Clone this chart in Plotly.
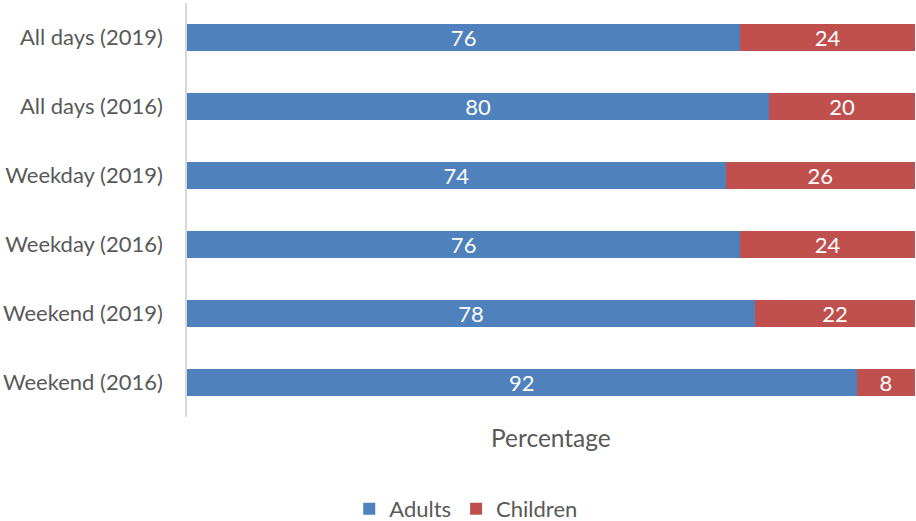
import plotly.graph_objects as go

categories = ["All days (2019)", "All days (2016)", "Weekday (2019)", "Weekday (2016)", "Weekend (2019)", "Weekend (2016)"]
adults = [76, 80, 74, 76, 78, 92]
children = [24, 20, 26, 24, 22, 8]

FONT = "Lato"
GREY = "#595959"

fig = go.Figure()
fig.add_trace(go.Bar(
    y=categories, x=adults, name="Adults", orientation="h",
    marker=dict(color="#4F81BD", line=dict(width=0)),
    text=[str(v) for v in adults], textposition="inside", insidetextanchor="middle", textangle=0,
    textfont=dict(color="white", size=22, family=FONT), constraintext="none",
))
fig.add_trace(go.Bar(
    y=categories, x=children, name="Children", orientation="h",
    marker=dict(color="#C0504D", line=dict(width=0)),
    text=[str(v) for v in children], textposition="inside", insidetextanchor="middle", textangle=0,
    textfont=dict(color="white", size=22, family=FONT), constraintext="none",
))

fig.update_layout(
    barmode="stack", bargap=0.6,
    width=916, height=521,
    margin=dict(l=187, r=1, t=3, b=104),
    plot_bgcolor="white", paper_bgcolor="white",
    font=dict(family=FONT, color=GREY, size=22),
    xaxis=dict(range=[0, 100], showticklabels=False, showgrid=False, zeroline=False, showline=False, fixedrange=True),
    yaxis=dict(autorange="reversed", showline=True, linecolor="#D9D9D9", linewidth=1.5,
               ticks="", ticklabelstandoff=18, tickfont=dict(size=22, color=GREY), showgrid=False),
    legend=dict(orientation="h", xref="container", yref="container", x=0.509, xanchor="center",
                y=0.023, yanchor="middle", font=dict(size=22, color=GREY), itemwidth=30,
                traceorder="normal"),
    showlegend=True,
    annotations=[dict(text="Percentage", xref="paper", yref="paper", x=0.5, y=-0.05,
                      yanchor="middle", showarrow=False, font=dict(size=24.5, color=GREY))],
)

fig.write_html("out.html")
